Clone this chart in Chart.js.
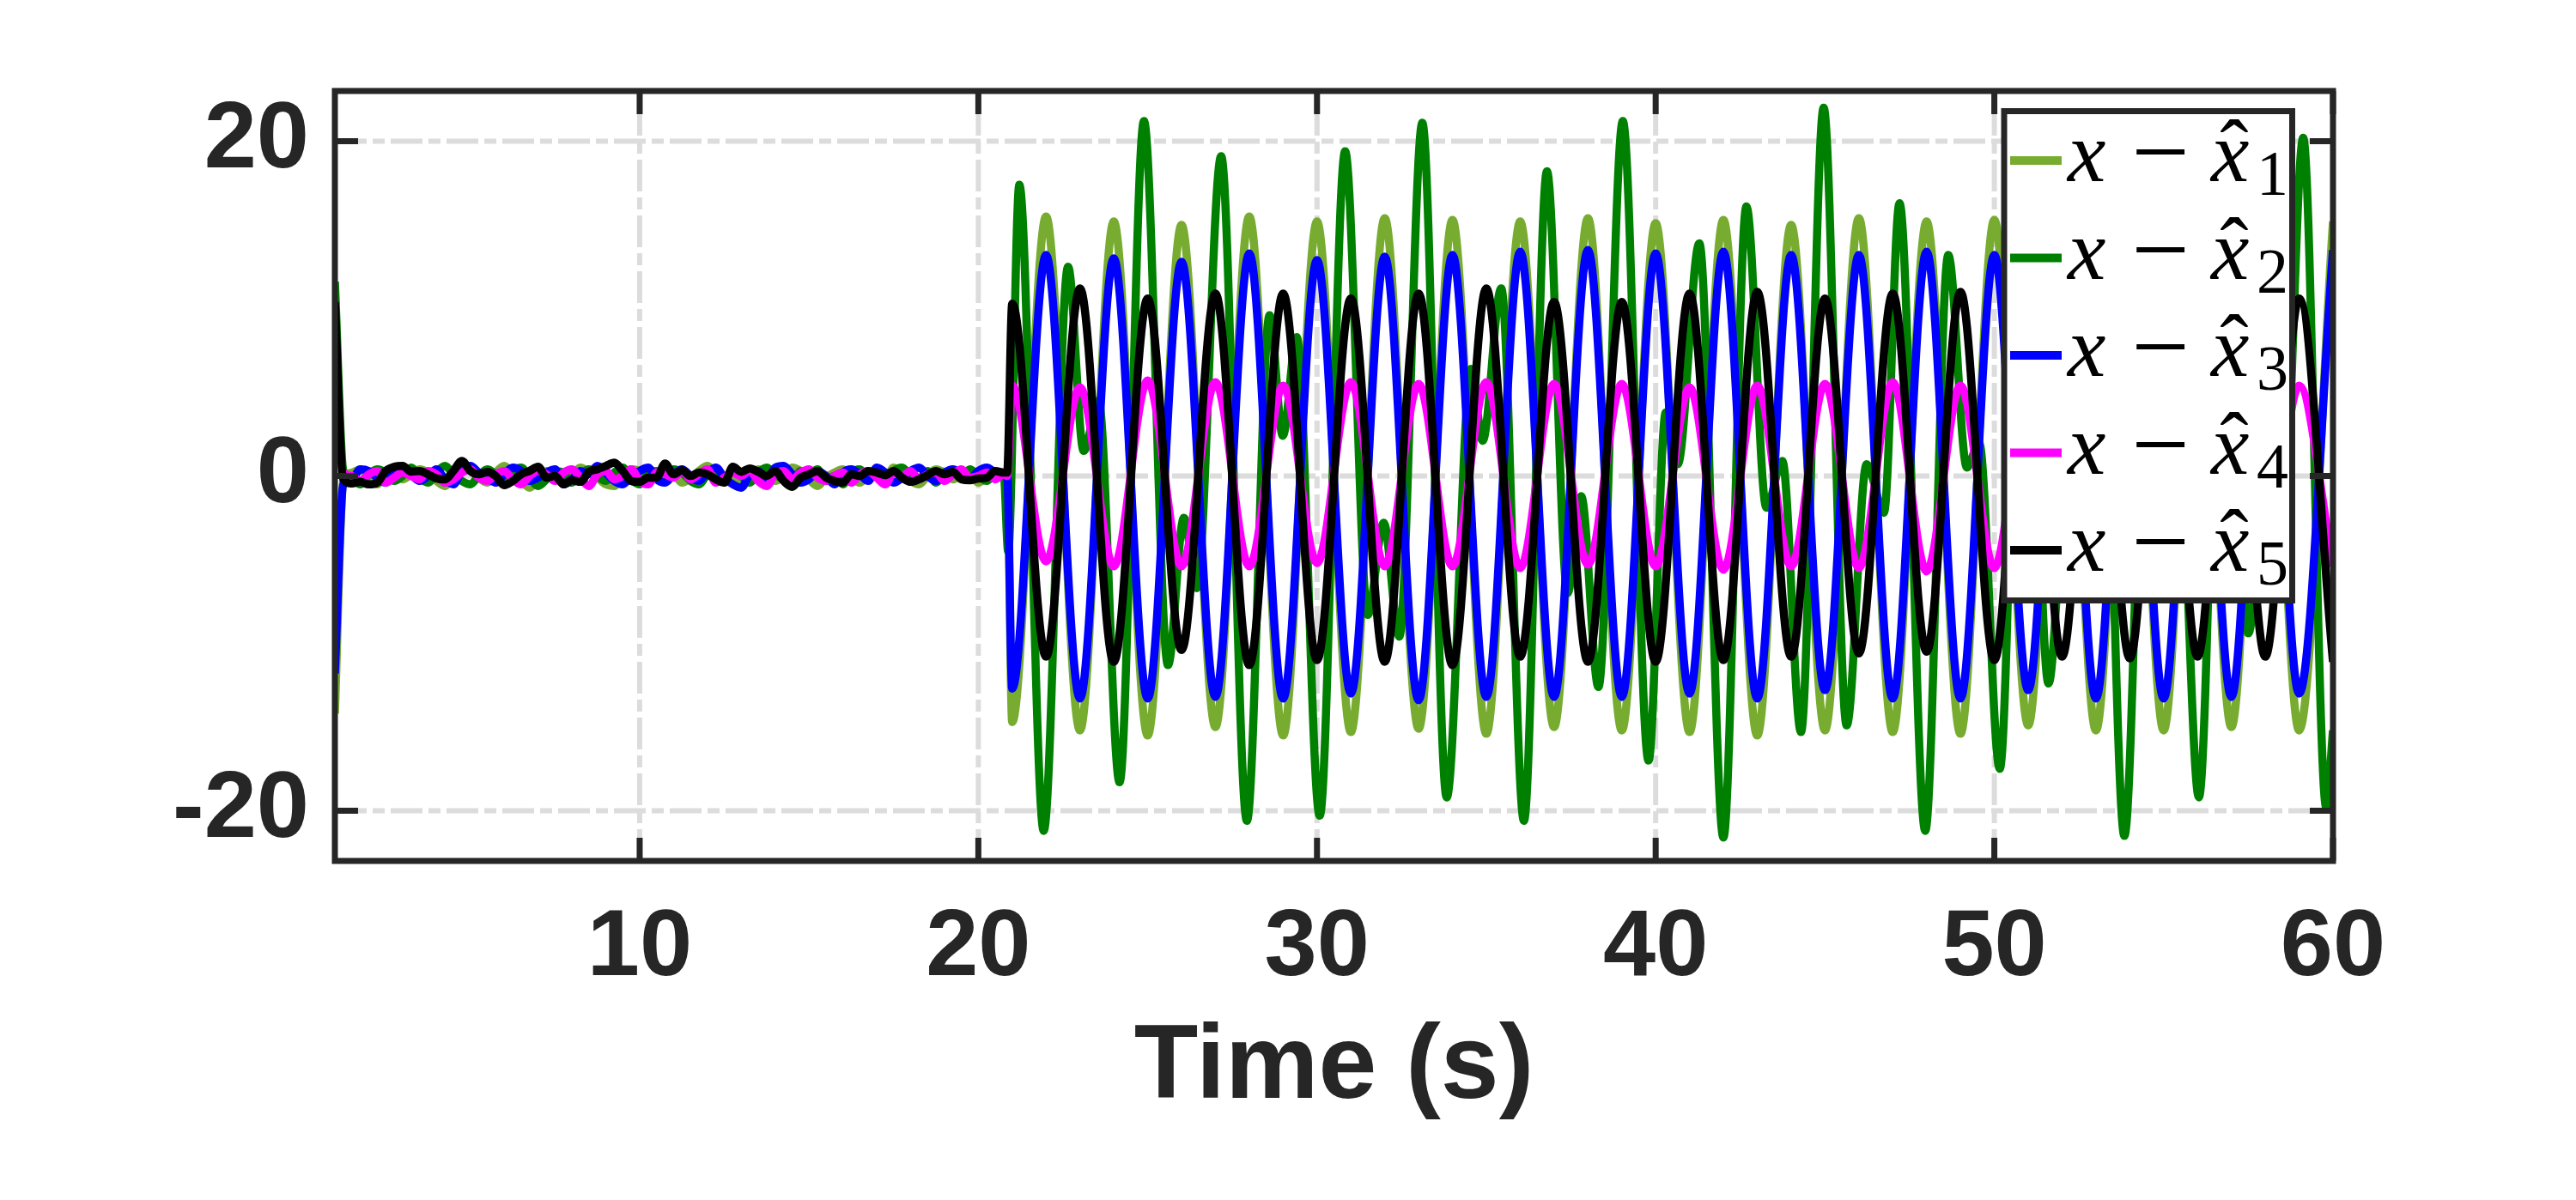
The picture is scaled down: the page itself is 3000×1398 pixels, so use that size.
<!DOCTYPE html>
<html>
<head>
<meta charset="utf-8">
<title>Estimation error</title>
<script src="https://cdn.jsdelivr.net/npm/chart.js@4.4.1/dist/chart.umd.min.js"></script>
<style>
  html, body { margin: 0; padding: 0; background: #ffffff; }
  #errChart { display: block; }
</style>
</head>
<body>
<canvas id="errChart" width="3000" height="1398"></canvas>
<script>
// ===== ESTIMATION ERRORS x - x̂i OVER TIME =====

// axis ticks
const xTicks = [10, 20, 30, 40, 50, 60];
const yTicks = [-20, 0, 20];

// legend subscripts and line colours (MATLAB style)
const seriesIndex = ["1", "2", "3", "4", "5"];
const seriesColors = ["#77ac30", "#008000", "#0000ff", "#ff00ff", "#000000"];

// start-up spike at t = 1 s (x1..x5)
const spikeT = 1;
const spikeVals = [-14.2, 11.6, -11.8, 5.5, 10.4];

// measurement noise before the attack, sampled every 0.25 s (1.25 .. 20.75 s)
const noiseT = Array.from({ length: 79 }, (_, i) => 1.25 + i * 0.25);

const noise1 = [
  -0.3, 0.2, 0.4, -0.1, -0.5, 0.1, 0.3, -0.2, 0.1, 0.4,
  0.2, -0.3, -0.6, 0.0, 0.3, 0.5, -0.1, -0.4, 0.2, 0.6,
  0.1, -0.3, -0.7, -0.2, 0.3, 0.1, -0.4, 0.0, 0.5, 0.2,
  -0.1, -0.5, -0.6, 0.1, 0.4, 0.3, -0.2, 0.0, 0.5, 0.2,
  -0.4, -0.1, 0.3, 0.6, 0.0, -0.3, 0.2, -0.5, -0.2, 0.4,
  0.1, -0.3, 0.0, 0.5, 0.3, -0.2, -0.6, -0.1, 0.2, 0.4,
  -0.1, -0.4, 0.1, 0.3, -0.2, 0.5, 0.1, -0.3, -0.5, 0.0,
  0.4, 0.2, -0.2, 0.1, 0.3, -0.4, -0.1, 0.2, 0.0
];
const noise2 = [
  0.3, -0.2, -0.5, 0.1, 0.4, 0.2, -0.3, 0.0, 0.5, -0.1,
  -0.4, 0.2, 0.6, 0.1, -0.3, -0.5, 0.0, 0.4, 0.1, -0.2,
  0.3, 0.5, -0.1, -0.6, -0.2, 0.3, 0.2, -0.4, 0.1, 0.4,
  0.0, -0.3, 0.2, 0.5, -0.2, -0.5, 0.1, 0.3, -0.1, 0.4,
  0.2, -0.3, -0.5, 0.1, 0.4, -0.1, 0.3, 0.0, -0.4, 0.2,
  0.5, 0.1, -0.2, -0.4, 0.3, 0.1, 0.4, -0.3, 0.0, -0.5,
  0.2, 0.4, -0.1, 0.1, -0.3, 0.3, 0.5, 0.0, -0.2, 0.3,
  -0.4, 0.1, 0.2, -0.1, 0.4, 0.0, -0.3, 0.2, 0.1
];
const noise3 = [
  -0.5, -0.2, 0.4, 0.3, -0.1, -0.4, 0.2, 0.5, 0.1, -0.3,
  0.0, 0.4, -0.2, -0.5, 0.3, 0.6, 0.2, -0.1, -0.4, 0.1,
  0.5, 0.3, -0.3, -0.1, 0.2, 0.4, -0.5, -0.2, 0.3, 0.1,
  0.6, 0.2, -0.3, -0.5, 0.0, 0.3, 0.5, -0.2, -0.4, 0.1,
  0.4, 0.0, -0.3, 0.2, 0.5, -0.1, -0.5, -0.7, 0.1, 0.3,
  -0.2, 0.5, 0.6, 0.1, -0.4, -0.2, 0.3, 0.0, -0.5, 0.2,
  0.4, 0.1, -0.3, 0.5, 0.2, -0.4, -0.1, 0.3, 0.5, 0.0,
  -0.3, 0.2, 0.4, 0.1, -0.2, 0.3, 0.5, 0.2, 0.0
];
const noise4 = [
  0.2, 0.0, -0.3, 0.1, 0.3, -0.4, -0.1, 0.2, 0.0, -0.2,
  0.3, 0.1, -0.4, -0.2, 0.2, 0.4, -0.1, -0.3, 0.1, 0.3,
  -0.2, -0.5, 0.0, 0.3, 0.1, -0.3, 0.2, 0.4, -0.1, -0.6,
  0.1, 0.3, -0.2, 0.0, 0.4, -0.3, -0.5, 0.2, 0.1, -0.1,
  0.3, -0.2, 0.1, 0.4, -0.4, -0.1, 0.2, 0.0, 0.3, -0.3,
  -0.6, 0.1, 0.3, -0.2, 0.2, 0.4, -0.1, -0.3, 0.0, 0.2,
  -0.4, 0.1, 0.3, -0.1, -0.5, 0.2, 0.0, 0.3, -0.2, 0.1,
  0.2, -0.3, 0.1, 0.4, -0.1, 0.0, 0.2, -0.2, 0.1
];
const noise5 = [
  -0.2, -0.45, -0.35, -0.5, -0.4, 0.3, 0.55, 0.6, 0.26, 0.3,
  0.1, -0.15, -0.2, 0.3, 0.9, 0.3, 0.1, 0.25, 0.0, -0.55,
  -0.3, 0.1, 0.3, 0.55, -0.1, 0.0, -0.5, -0.25, -0.35, 0.25,
  0.4, 0.6, 0.8, 0.3, -0.3, -0.35, -0.1, -0.1, 0.75, 0.1,
  0.35, 0.0, 0.2, 0.1, -0.2, -0.4, 0.55, 0.25, 0.45, 0.25,
  0.0, 0.3, -0.3, -0.65, -0.1, 0.1, 0.3, -0.1, -0.3, -0.4,
  0.1, 0.0, 0.3, 0.2, 0.05, 0.3, -0.1, -0.35, -0.2, 0.05,
  0.3, 0.1, 0.25, -0.2, -0.25, -0.15, -0.1, 0.3, 0.2
];

// after the attack: peaks and troughs of the periodic errors (onset, then every 1 s)
const cycleT = [20.85,
  21, 22, 23, 24, 25, 26, 27, 28, 29, 30,
  31, 32, 33, 34, 35, 36, 37, 38, 39, 40,
  41, 42, 43, 44, 45, 46, 47, 48, 49, 50,
  51, 52, 53, 54, 55, 56, 57, 58, 59, 60];

const cycle1 = [0.1,
  -14.7, 15.5, -15.2, 15.2, -15.5, 15.0, -15.0, 15.5, -15.5, 15.2,
  -15.3, 15.4, -15.1, 15.3, -15.4, 15.2, -15.0, 15.4, -15.2, 15.1,
  -15.3, 15.3, -15.5, 15.0, -15.2, 15.4, -15.3, 15.2, -15.4, 15.3,
  -14.9, 15.3, -15.2, 15.1, -15.2, 15.3, -15.0, 15.2, -15.2, 15.2];
const cycle3 = [0.1,
  -12.7, 13.2, -13.3, 13.0, -13.3, 12.8, -13.2, 13.3, -13.3, 12.9,
  -13.0, 13.1, -13.4, 13.2, -13.2, 13.4, -13.2, 13.5, -13.2, 13.3,
  -13.0, 13.4, -13.3, 13.2, -12.8, 13.2, -13.3, 13.4, -13.3, 13.2,
  -12.8, 13.2, -13.3, 13.1, -13.3, 13.2, -13.2, 13.3, -13.0, 13.5];
const cycle4 = [0.0,
  5.4, -5.1, 5.3, -5.4, 5.7, -5.4, 5.6, -5.4, 5.4, -5.2,
  5.6, -5.4, 5.5, -5.4, 5.6, -5.5, 5.5, -5.3, 5.5, -5.4,
  5.3, -5.6, 5.4, -5.4, 5.5, -5.5, 5.6, -5.7, 5.4, -5.5,
  5.5, -5.4, 5.5, -5.5, 5.6, -5.4, 5.5, -5.5, 5.4, -5.4];
const cycle5 = [0.2,
  10.3, -10.8, 11.2, -11.1, 10.6, -10.4, 10.9, -11.3, 10.9, -11.0,
  10.6, -11.1, 10.9, -11.3, 11.2, -10.8, 10.4, -11.1, 10.4, -11.1,
  10.9, -11.0, 11.0, -10.8, 10.6, -10.6, 10.9, -10.5, 11.0, -11.0,
  10.8, -10.8, 10.9, -10.9, 10.7, -10.8, 11.0, -10.8, 10.6, -11.1];

// x - x̂2 is not a single tone: its own list of extremes after the attack
const x2T = [
  20.88, 21.21, 21.93, 22.65, 23.11, 23.55, 24.17, 24.89, 25.6, 26.07,
  26.45, 27.17, 27.93, 28.6, 28.99, 29.4, 30.08, 30.83, 31.5, 31.97,
  32.43, 33.11, 33.83, 34.55, 34.89, 35.44, 36.11, 36.79, 37.4, 37.8,
  38.31, 39.03, 39.79, 40.3, 40.65, 41.29, 42.0, 42.68, 43.27, 43.74,
  44.29, 44.96, 45.64, 46.23, 46.74, 47.2, 47.96, 48.64, 49.19, 49.55,
  50.16, 50.87, 51.6, 52.15, 52.65, 53.12, 53.84, 54.55, 55.1, 55.45,
  56.04, 56.8, 57.5, 58.05, 58.55, 59.12, 59.8, 60.0];
const x2V = [
  -4.5, 17.4, -21.2, 12.5, 1.5, 4.5, -18.3, 21.2, -11.3, -2.5,
  -6.7, 19.1, -20.6, 9.6, 2.4, 8.3, -20.3, 19.4, -8.3, -2.8,
  -9.6, 21.1, -19.2, 6.4, 2.1, 11.2, -20.6, 18.2, -7.0, -1.2,
  -12.6, 21.2, -17.0, 3.8, 0.7, 13.9, -21.6, 16.1, -1.9, 0.9,
  -15.3, 22.0, -14.9, 0.7, -2.2, 16.3, -21.2, 13.2, 0.5, 2.0,
  -17.5, 21.0, -12.4, 0.7, -2.2, 16.0, -21.5, 13.0, 0.5, 2.0,
  -19.2, 21.5, -9.4, 0.7, -2.0, 20.2, -19.8, -15.2];

// ---- assemble {x, y} points per series ----
function pairs(ts, vs) {
  const out = [];
  for (let i = 0; i < Math.min(ts.length, vs.length); i++) out.push({ x: ts[i], y: vs[i] });
  return out;
}

const noiseSets = [noise1, noise2, noise3, noise4, noise5];
const tailSets = [
  pairs(cycleT, cycle1),
  pairs(x2T, x2V),
  pairs(cycleT, cycle3),
  pairs(cycleT, cycle4),
  pairs(cycleT, cycle5)
];

const LINE_W = 9.5;

const datasets = seriesIndex.map((idx, i) => ({
  label: "x - x̂" + idx,
  data: [{ x: spikeT, y: spikeVals[i] }].concat(pairs(noiseT, noiseSets[i]), tailSets[i]),
  borderColor: seriesColors[i],
  backgroundColor: seriesColors[i],
  borderWidth: LINE_W,
  pointRadius: 0,
  fill: false,
  cubicInterpolationMode: "monotone",
  order: 5 - i   // x̂5 on top, like the MATLAB plot order
}));

// ---- MATLAB-like axes: dash-dot grid, boxed axes with inward ticks, boxed legend ----
const INK = "#262626";

const matlabAxes = {
  id: "matlabAxes",
  beforeDatasetsDraw(chart) {
    const { ctx, chartArea: a, scales: { x, y } } = chart;
    ctx.save();
    ctx.strokeStyle = "#dcdcdc";
    ctx.lineWidth = 6;
    ctx.setLineDash([37, 7, 14, 7]);
    xTicks.forEach(v => {
      const px = x.getPixelForValue(v);
      if (px >= a.right - 1) return;
      ctx.beginPath(); ctx.moveTo(px, a.bottom); ctx.lineTo(px, a.top); ctx.stroke();
    });
    yTicks.forEach(v => {
      const py = y.getPixelForValue(v);
      ctx.beginPath(); ctx.moveTo(a.left, py); ctx.lineTo(a.right, py); ctx.stroke();
    });
    ctx.restore();
  },
  afterDatasetsDraw(chart) {
    const { ctx, chartArea: a, scales: { x, y } } = chart;
    const tick = 27;
    ctx.save();
    ctx.strokeStyle = INK;
    ctx.lineWidth = 7;
    ctx.setLineDash([]);
    ctx.strokeRect(a.left, a.top, a.right - a.left, a.bottom - a.top);
    ctx.beginPath();
    xTicks.forEach(v => {
      const px = x.getPixelForValue(v);
      ctx.moveTo(px, a.bottom); ctx.lineTo(px, a.bottom - tick);
      ctx.moveTo(px, a.top); ctx.lineTo(px, a.top + tick);
    });
    yTicks.forEach(v => {
      const py = y.getPixelForValue(v);
      ctx.moveTo(a.left, py); ctx.lineTo(a.left + tick, py);
      ctx.moveTo(a.right, py); ctx.lineTo(a.right - tick, py);
    });
    ctx.stroke();
    ctx.restore();
  },
  afterDraw(chart) {
    const { ctx, chartArea: a } = chart;
    const L = a.right - 383, T = a.top + 23.5, W = 335.5, H = 570;
    ctx.save();
    ctx.fillStyle = "#ffffff";
    ctx.fillRect(L, T, W, H);
    ctx.strokeStyle = INK;
    ctx.lineWidth = 7;
    ctx.strokeRect(L, T, W, H);

    seriesIndex.forEach((idx, i) => {
      const yc = T + 57.5 + i * 113.5;
      // line sample
      ctx.strokeStyle = seriesColors[i];
      ctx.lineWidth = 10;
      ctx.beginPath(); ctx.moveTo(L + 7, yc); ctx.lineTo(L + 67, yc); ctx.stroke();

      ctx.fillStyle = "#000000";
      ctx.textBaseline = "alphabetic";
      ctx.textAlign = "left";
      ctx.font = 'italic 100px "Liberation Serif"';
      ctx.fillText("x", L + 74, yc + 24);
      ctx.fillText("x", L + 241, yc + 24);
      ctx.textAlign = "center";
      ctx.font = '100px "Liberation Serif"';
      ctx.fillText("\u02C6", L + 268, yc + 22);
      ctx.font = '120px "Liberation Serif"';
      ctx.fillText("\u2212", L + 182, yc + 30);
      ctx.textAlign = "left";
      ctx.font = '74px "Liberation Serif"';
      ctx.fillText(idx, L + 294, yc + 40);
    });
    ctx.restore();
  }
};

const tickFont = { family: "'Liberation Sans', Arial, sans-serif", size: 110, weight: "bold" };

new Chart(document.getElementById("errChart").getContext("2d"), {
  type: "line",
  data: { datasets: datasets },
  options: {
    responsive: false,
    animation: false,
    devicePixelRatio: 1,
    layout: { padding: { top: 106, right: 283, bottom: 0, left: 0 } },
    plugins: {
      legend: { display: false },
      tooltip: { enabled: false }
    },
    scales: {
      x: {
        type: "linear",
        min: 1,
        max: 60,
        afterBuildTicks: s => { s.ticks = xTicks.map(v => ({ value: v })); },
        afterFit: s => { s.height = 395; },
        grid: { display: false, drawTicks: false },
        border: { display: false },
        ticks: {
          color: INK,
          font: tickFont,
          padding: 37,
          maxRotation: 0,
          autoSkip: false,
          callback: v => String(v)
        },
        title: {
          display: true,
          text: "Time (s)",
          color: INK,
          font: { family: "'Liberation Sans', Arial, sans-serif", size: 122, weight: "bold" },
          padding: { top: 0, bottom: 79 }
        }
      },
      y: {
        type: "linear",
        min: -23,
        max: 23,
        afterBuildTicks: s => { s.ticks = yTicks.map(v => ({ value: v })); },
        afterFit: s => { s.width = 390; },
        grid: { display: false, drawTicks: false },
        border: { display: false },
        ticks: {
          color: INK,
          font: tickFont,
          padding: 30,
          autoSkip: false,
          callback: v => String(v)
        }
      }
    }
  },
  plugins: [matlabAxes]
});
</script>
</body>
</html>
